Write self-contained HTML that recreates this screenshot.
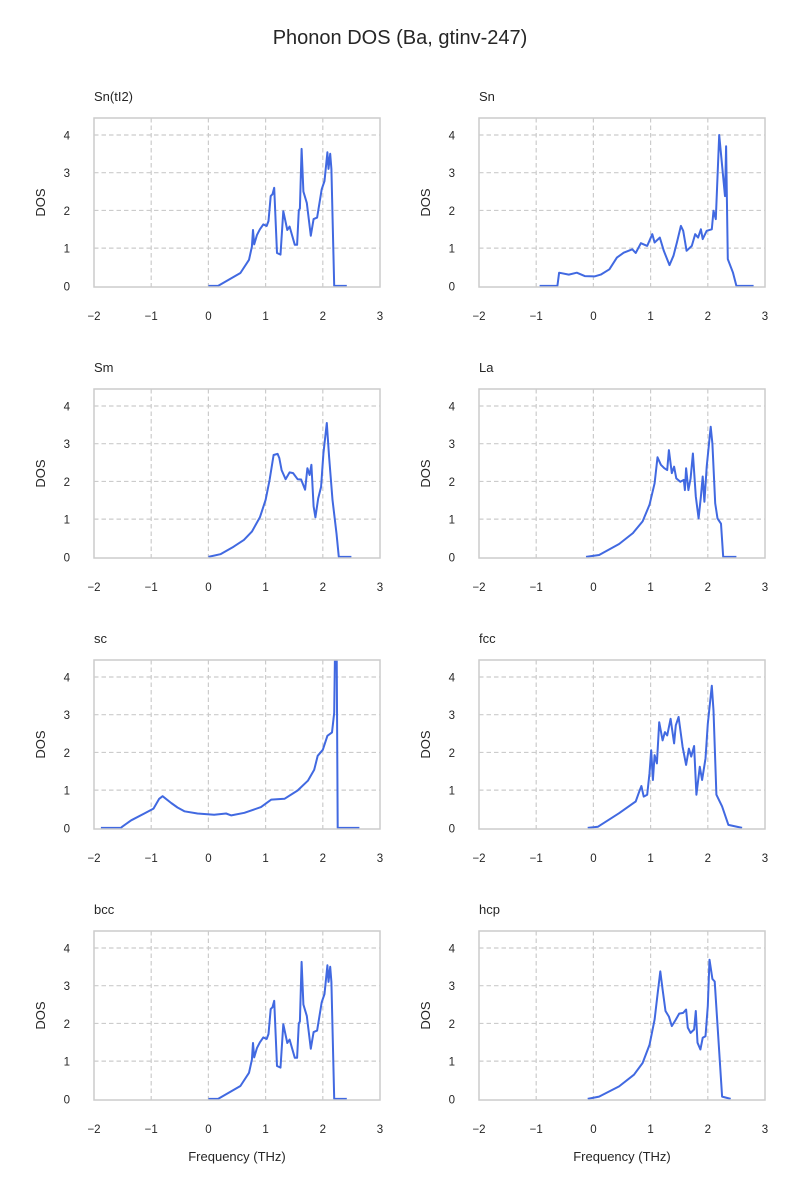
<!DOCTYPE html>
<html><head><meta charset="utf-8"><style>
html,body{margin:0;padding:0;background:#fff;}
svg{display:block;font-family:"Liberation Sans","DejaVu Sans",sans-serif;}
</style></head><body>
<svg id="fig" width="800" height="1200" viewBox="0 0 800 1200" xmlns="http://www.w3.org/2000/svg">
<rect width="800" height="1200" fill="#fff"/>
<text x="400" y="44" text-anchor="middle" font-size="20" fill="#262626">Phonon DOS (Ba, gtinv-247)</text>
</svg>
<script>
const panelTitles = ["Sn(tI2)","Sn","Sm","La","sc","fcc","bcc","hcp"];
const xTicks = [-2,-1,0,1,2,3];
const xTickLabels = ["\u22122","\u22121","0","1","2","3"];
const yTicks = [0,1,2,3,4];
const yTickLabels = ["0","1","2","3","4"];
const snTI2Freq = [0,0.17,0.56,0.71,0.76,0.78,0.80,0.85,0.9,0.96,1.02,1.05,1.09,1.12,1.15,1.2,1.26,1.31,1.38,1.42,1.51,1.55,1.58,1.6,1.63,1.66,1.72,1.79,1.84,1.9,1.98,2.03,2.08,2.1,2.13,2.15,2.2,2.42];
const snTI2Dos = [0,0,0.34,0.69,1.04,1.48,1.1,1.35,1.5,1.63,1.59,1.72,2.38,2.43,2.6,0.87,0.83,1.98,1.48,1.57,1.09,1.09,2.0,2.05,3.63,2.5,2.2,1.33,1.77,1.81,2.56,2.78,3.54,3.1,3.5,3.1,0,0];
const snFreq = [-0.94,-0.63,-0.6,-0.43,-0.29,-0.15,0.02,0.13,0.28,0.41,0.53,0.68,0.74,0.83,0.94,1.03,1.07,1.16,1.23,1.33,1.4,1.46,1.53,1.57,1.63,1.72,1.78,1.83,1.88,1.91,1.98,2.07,2.1,2.14,2.2,2.3,2.32,2.35,2.44,2.5,2.8];
const snDos = [0,0,0.35,0.3,0.35,0.26,0.25,0.3,0.44,0.75,0.88,0.97,0.87,1.13,1.06,1.37,1.15,1.28,0.93,0.55,0.8,1.15,1.59,1.46,0.93,1.06,1.37,1.28,1.5,1.24,1.46,1.5,1.99,1.77,4.0,2.38,3.7,0.71,0.35,0,0];
const smFreq = [0,0.21,0.44,0.62,0.76,0.9,1.0,1.07,1.14,1.21,1.24,1.28,1.35,1.42,1.48,1.56,1.62,1.69,1.73,1.77,1.8,1.84,1.87,1.92,1.97,2.01,2.07,2.11,2.17,2.24,2.28,2.5];
const smDos = [0,0.07,0.27,0.45,0.67,1.05,1.51,2.04,2.7,2.73,2.62,2.3,2.06,2.24,2.22,2.06,2.05,1.78,2.35,2.17,2.44,1.34,1.05,1.55,1.86,2.74,3.55,2.65,1.51,0.62,0,0];
const laFreq = [-0.13,0.1,0.45,0.69,0.86,0.98,1.07,1.12,1.18,1.24,1.29,1.32,1.37,1.41,1.45,1.52,1.58,1.6,1.62,1.66,1.7,1.74,1.79,1.84,1.88,1.91,1.94,1.98,2.05,2.08,2.13,2.17,2.23,2.27,2.5];
const laDos = [0,0.05,0.34,0.63,0.94,1.38,1.95,2.64,2.44,2.35,2.3,2.83,2.22,2.39,2.08,1.99,2.04,1.77,2.35,1.77,2.08,2.74,1.6,1.02,1.6,2.13,1.46,2.39,3.45,3.0,1.42,1.02,0.88,0,0];
const scFreq = [-1.88,-1.53,-1.5,-1.35,-1.12,-0.96,-0.86,-0.8,-0.65,-0.54,-0.42,-0.19,0.1,0.31,0.4,0.63,0.92,1.1,1.33,1.56,1.74,1.85,1.91,2.0,2.08,2.16,2.2,2.22,2.24,2.26,2.64];
const scDos = [0,0,0.04,0.2,0.38,0.51,0.77,0.84,0.66,0.54,0.44,0.38,0.35,0.38,0.33,0.4,0.55,0.75,0.77,0.99,1.25,1.54,1.91,2.07,2.44,2.53,3.05,5.5,5.5,0,0];
const fccFreq = [-0.1,0.08,0.45,0.74,0.8,0.84,0.88,0.94,0.98,1.01,1.04,1.07,1.11,1.15,1.21,1.25,1.29,1.35,1.41,1.44,1.49,1.56,1.62,1.67,1.71,1.76,1.8,1.86,1.9,1.96,2.0,2.07,2.1,2.15,2.25,2.36,2.6];
const fccDos = [0,0.03,0.39,0.7,0.96,1.11,0.83,0.88,1.45,2.06,1.27,1.93,1.71,2.8,2.32,2.54,2.45,2.89,2.24,2.72,2.94,2.15,1.67,2.1,1.89,2.17,0.88,1.62,1.27,1.84,2.76,3.77,3.11,0.88,0.57,0.08,0];
const bccFreq = snTI2Freq.slice();
const bccDos = snTI2Dos.slice();
const hcpFreq = [-0.1,0.1,0.45,0.71,0.86,0.98,1.07,1.12,1.17,1.21,1.26,1.32,1.37,1.44,1.5,1.57,1.62,1.65,1.7,1.76,1.79,1.82,1.87,1.91,1.96,2.0,2.03,2.08,2.12,2.25,2.4];
const hcpDos = [0,0.06,0.33,0.64,0.95,1.43,2.1,2.76,3.38,2.9,2.33,2.18,1.93,2.1,2.26,2.28,2.37,1.89,1.75,1.84,2.33,1.49,1.31,1.62,1.66,2.46,3.69,3.18,3.11,0.06,0];
const seriesFreq = [snTI2Freq,snFreq,smFreq,laFreq,scFreq,fccFreq,bccFreq,hcpFreq];
const seriesDos = [snTI2Dos,snDos,smDos,laDos,scDos,fccDos,bccDos,hcpDos];

const NS = "http://www.w3.org/2000/svg";
const svg = document.getElementById("fig");
const xMin=-2,xMax=3,yMin=-0.03,yMax=4.45;
const colX=[94,479], W=286, rowY=[118,389,660,931], H=169;
function mk(tag, attrs, parent){const e=document.createElementNS(NS,tag);for(const k in attrs)e.setAttribute(k,attrs[k]);(parent||svg).appendChild(e);return e;}
const defs = mk("defs",{});
for(let i=0;i<8;i++){
  const L=colX[i%2], T=rowY[Math.floor(i/2)];
  const sx=v=>L+(v-xMin)/(xMax-xMin)*W;
  const sy=v=>T+H-(v-yMin)/(yMax-yMin)*H;
  const g=mk("g",{});
  
  
  const cp=mk("clipPath",{id:"c"+i},defs);
  mk("rect",{x:L,y:T,width:W,height:H},cp);
  xTicks.forEach((t,j)=>{
    if(t>xMin&&t<xMax){const gl=mk("line",{x1:sx(t),x2:sx(t),y1:T,y2:T+H,stroke:"#cccccc","stroke-width":1.2,"stroke-dasharray":"4.5,3"},g);
    
    }
    const tl=mk("text",{x:sx(t),y:T+H+33,"text-anchor":"middle","font-size":11.5,fill:"#262626"},g);
    tl.textContent=xTickLabels[j];
    
    
  });
  yTicks.forEach((t,j)=>{
    if(t>0){const gl=mk("line",{x1:L,x2:L+W,y1:sy(t),y2:sy(t),stroke:"#cccccc","stroke-width":1.2,"stroke-dasharray":"4.5,3"},g);
    
    }
    const tl=mk("text",{x:L-24,y:sy(t)+4.5,"text-anchor":"end","font-size":11.5,fill:"#262626"},g);
    tl.textContent=yTickLabels[j];
    
    
  });
  const fx=seriesFreq[i], fy=seriesDos[i];
  let d="";
  for(let k=0;k<fx.length;k++) d+=(k?"L":"M")+sx(fx[k]).toFixed(1)+","+sy(fy[k]).toFixed(1);
  const p=mk("path",{d:d,fill:"none",stroke:"#4169e1","stroke-width":2,"stroke-linejoin":"round","clip-path":"url(#c"+i+")"},g);
  
  
  const fr=mk("rect",{x:L,y:T,width:W,height:H,fill:"none",stroke:"#cccccc","stroke-width":1.5},g);
  
  
  const tt=mk("text",{x:L,y:T-17,"font-size":13,fill:"#262626"},g);
  tt.textContent=panelTitles[i];
  
  
  const yl=mk("text",{x:0,y:0,"font-size":13,fill:"#262626","text-anchor":"middle",transform:"translate("+(L-49)+","+(T+H/2)+") rotate(-90)"},g);
  yl.textContent="DOS";
  
  
  if(i>=6){
    const xl=mk("text",{x:L+W/2,y:T+H+61,"font-size":13,fill:"#262626","text-anchor":"middle"},g);
    xl.textContent="Frequency (THz)";
    
    
  }
}
</script>
</body></html>
